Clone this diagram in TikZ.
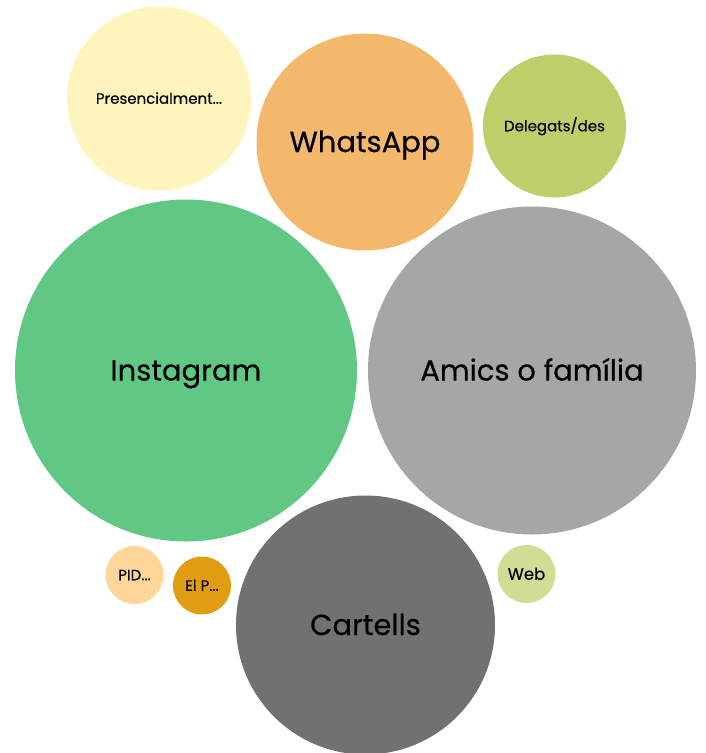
\documentclass[tikz,border=0pt]{standalone}
\usepackage{fontspec}
\setmainfont{Poppins}
\newfontfamily\bubblefont{Poppins}[FakeBold=0.45]
\definecolor{presc}{HTML}{FEF4BD}
\definecolor{whats}{HTML}{F3B86C}
\definecolor{deleg}{HTML}{BDCE6A}
\definecolor{insta}{HTML}{60C884}
\definecolor{amics}{HTML}{A6A6A6}
\definecolor{cart}{HTML}{717171}
\definecolor{pid}{HTML}{FFD699}
\definecolor{elp}{HTML}{E19D12}
\definecolor{web}{HTML}{D0DD94}
\begin{document}
\begin{tikzpicture}[x=1pt, y=-1pt,
            bubble/.style={circle, inner sep=0pt, text=black, text depth=0pt},
            big/.style={bubble, text height=20pt, font=\bubblefont\fontsize{29}{29}\selectfont},
            small/.style={bubble, text height=10.5pt, font=\bubblefont\fontsize{15}{15}\selectfont}]
            \useasboundingbox (0,0) rectangle (705,753);
            % large bubbles
            \node[big, fill=insta, minimum size=342pt] (insta) at (186,370.5) {Instagram};
            \node[big, fill=amics, minimum size=328pt] (amics) at (532,370.5) {Amics o família};
            \node[big, fill=cart, minimum size=259pt] (cart) at (365.5,625) {Cartells};
            \node[big, fill=whats, minimum size=217pt] (whats) at (365,142) {WhatsApp};
            % smaller bubbles
            \node[small, fill=presc, minimum size=184pt] (presc) at (159,98.5) {Presencialment...};
            \node[small, fill=deleg, minimum size=143pt] (deleg) at (554.5,126) {Delegats/des};
            \node[small, fill=pid, minimum size=58pt] (pid) at (134.5,575) {PID...};
            \node[small, fill=elp, minimum size=58pt] (elp) at (202,585.5) {El P...};
            \node[small, fill=web, minimum size=58pt, text height=11.5pt, font=\bubblefont\fontsize{16.5}{16.5}\selectfont] (web) at (526.5,574) {Web};
        \end{tikzpicture}
\end{document}
